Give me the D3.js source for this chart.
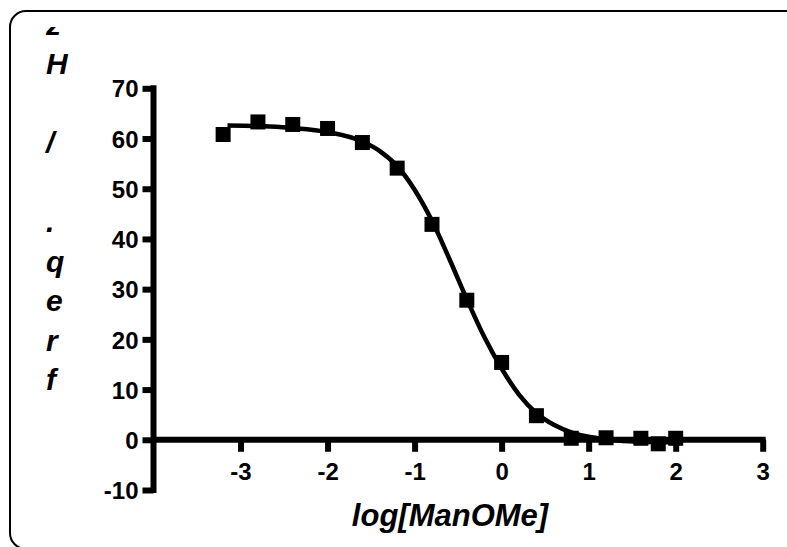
<!DOCTYPE html>
<html>
<head>
<meta charset="utf-8">
<script src="https://cdn.jsdelivr.net/npm/d3@7"></script>
<style>
  html, body { margin: 0; padding: 0; background: #fff; }
  svg { display: block; }
  text { font-family: "Liberation Sans", Arial, sans-serif; font-weight: bold; fill: #000; }
</style>
</head>
<body>
<script>
// ---- data ----
const pointX = [-3.2, -2.8, -2.4, -2.0, -1.6, -1.2, -0.8, -0.4, 0.0, 0.4, 0.8, 1.2, 1.6, 1.8, 2.0];
const pointY = [60.8, 63.3, 62.8, 62.0, 59.2, 54.1, 42.9, 27.8, 15.4, 4.8, 0.3, 0.4, 0.3, -0.8, 0.3];
const fitX = [-3.15, -2.8, -2.4, -2.0, -1.6, -1.4, -1.2, -1.0, -0.8, -0.6, -0.4, -0.2, 0.0, 0.2, 0.4, 0.6, 0.8, 1.0, 1.2, 1.6, 2.0];
const fitY = [62.6, 62.5, 62.1, 61.3, 59.4, 57.5, 54.5, 49.8, 43.6, 36.0, 28.0, 20.5, 14.2, 9.0, 5.3, 3.0, 1.5, 0.6, 0.1, -0.4, -0.5];
const xTicks = [-3, -2, -1, 0, 1, 2, 3];
const yTicks = [-10, 0, 10, 20, 30, 40, 50, 60, 70];
const xTitle = "log[ManOMe]";
const yTitle = "freq. / Hz";

const W = 787, H = 547;
const svg = d3.select("body").append("svg").attr("width", W).attr("height", H);

// frame
svg.append("rect")
  .attr("x", 10).attr("y", 11).attr("width", 820).attr("height", 538)
  .attr("rx", 16).attr("ry", 16)
  .attr("fill", "none").attr("stroke", "#000").attr("stroke-width", 2);

const x = d3.scaleLinear().domain([-4, 3]).range([153.5, 762.7]);
const y = d3.scaleLinear().domain([-10, 70]).range([490, 88.3]);
const fmt = d => String(d); // plain hyphen-minus like the original

// y axis
const yAxis = svg.append("g").attr("transform", `translate(${x(-4)},0)`)
  .call(d3.axisLeft(y).tickValues(yTicks).tickSize(11).tickPadding(5).tickFormat(fmt));
yAxis.select(".domain").attr("d", `M0,${y(-10) + 3}V${y(70) - 3}`).attr("stroke-width", 6).attr("stroke", "#000");
yAxis.selectAll(".tick line").attr("stroke-width", 6).attr("stroke", "#000");
yAxis.selectAll(".tick text").attr("font-size", 24).attr("dy", "0.36em")
  .style("font-family", "'Liberation Sans', Arial, sans-serif").style("font-weight", "bold").attr("x", -15);

// x axis at y=0
const xAxis = svg.append("g").attr("transform", `translate(0,${y(0)})`)
  .call(d3.axisBottom(x).tickValues(xTicks).tickSize(12).tickPadding(10).tickFormat(fmt));
xAxis.select(".domain").attr("d", `M${x(-4)},0H${x(3) + 3}`).attr("stroke-width", 6).attr("stroke", "#000");
xAxis.selectAll(".tick line").attr("stroke-width", 6).attr("stroke", "#000");
xAxis.selectAll(".tick text").attr("font-size", 24).attr("y", 23).attr("dy", "0.71em")
  .style("font-family", "'Liberation Sans', Arial, sans-serif").style("font-weight", "bold");

// fitted curve
const fit = fitX.map((v, i) => [v, fitY[i]]);
svg.append("path").datum(fit)
  .attr("fill", "none").attr("stroke", "#000").attr("stroke-width", 4.5)
  .attr("stroke-linejoin", "round")
  .attr("d", d3.line().x(d => x(d[0])).y(d => y(d[1])).curve(d3.curveMonotoneX));

// points
const pts = pointX.map((v, i) => [v, pointY[i]]);
const S = 15;
svg.append("g").selectAll("rect").data(pts).join("rect")
  .attr("x", d => x(d[0]) - S / 2).attr("y", d => y(d[1]) - S / 2)
  .attr("width", S).attr("height", S).attr("fill", "#000");

// x title
svg.append("text").attr("x", 450).attr("y", 526).attr("text-anchor", "middle")
  .attr("font-size", 31).attr("font-style", "italic").text(xTitle);

// y title: stacked characters, reading bottom to top
svg.append("clipPath").attr("id", "ylabClip")
  .append("rect").attr("x", 0).attr("y", 27).attr("width", 120).attr("height", 500);
const chars = Array.from(yTitle);
svg.append("g").attr("clip-path", "url(#ylabClip)")
  .selectAll("text").data(chars).join("text")
  .attr("x", 46).attr("y", (d, i) => 390 - 39.5 * i)
  .attr("font-size", 30).attr("font-style", "italic")
  .text(d => d);
</script>
</body>
</html>
